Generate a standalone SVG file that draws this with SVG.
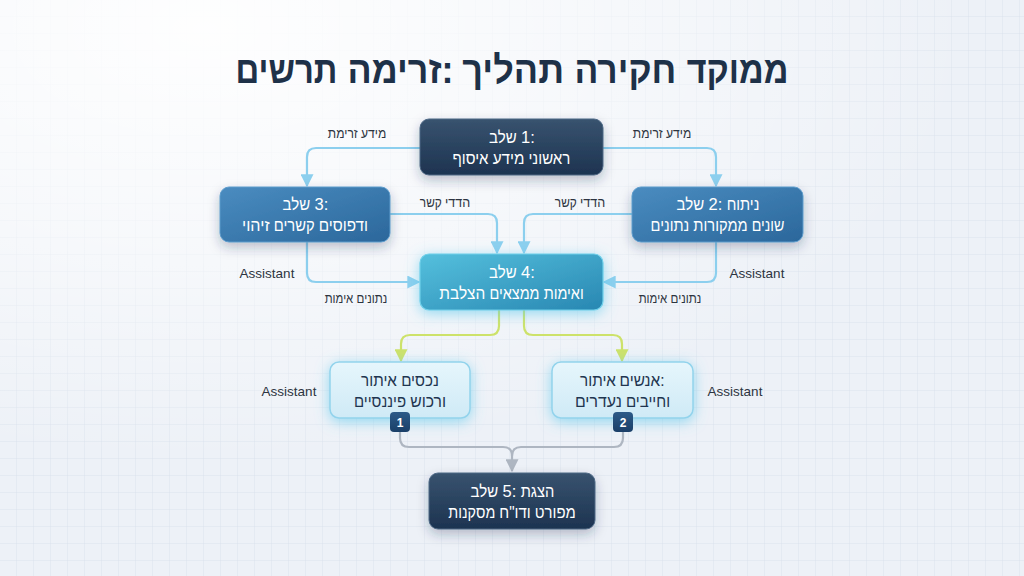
<svg xmlns="http://www.w3.org/2000/svg" width="1024" height="576" viewBox="0 0 1024 576">
<defs>
<pattern id="grid" width="17" height="17" patternUnits="userSpaceOnUse">
<path d="M17,0 V17 H0" fill="none" stroke="#dbe2ec" stroke-width="1"/>
</pattern>
<radialGradient id="bgfade" cx="0.2" cy="0.05" r="0.75">
<stop offset="0" stop-color="#ffffff" stop-opacity="0.95"/>
<stop offset="0.5" stop-color="#ffffff" stop-opacity="0.55"/>
<stop offset="1" stop-color="#ffffff" stop-opacity="0"/>
</radialGradient>
<linearGradient id="gDark" x1="0" y1="0" x2="0" y2="1">
<stop offset="0" stop-color="#38536f"/>
<stop offset="1" stop-color="#1d3350"/>
</linearGradient>
<linearGradient id="gMid" x1="0" y1="0" x2="1" y2="1">
<stop offset="0" stop-color="#4a8cc0"/>
<stop offset="1" stop-color="#2b679b"/>
</linearGradient>
<linearGradient id="gTeal" x1="0" y1="0" x2="1" y2="1">
<stop offset="0" stop-color="#55c0dd"/>
<stop offset="1" stop-color="#2887b2"/>
</linearGradient>
<linearGradient id="gLight" x1="0" y1="0" x2="0" y2="1">
<stop offset="0" stop-color="#e6f6fc"/>
<stop offset="1" stop-color="#cfeaf6"/>
</linearGradient>
<linearGradient id="gBadge" x1="0" y1="0" x2="0" y2="1">
<stop offset="0" stop-color="#2c5a88"/>
<stop offset="1" stop-color="#1a3f68"/>
</linearGradient>
<filter id="shadow" x="-30%" y="-40%" width="160%" height="190%">
<feDropShadow dx="0" dy="5" stdDeviation="6" flood-color="#1d3350" flood-opacity="0.28"/>
</filter>
<filter id="glow" x="-30%" y="-40%" width="160%" height="190%">
<feDropShadow dx="0" dy="3" stdDeviation="7" flood-color="#5cc8ec" flood-opacity="0.65"/>
</filter>
<marker id="aBlue" viewBox="0 0 10 10" refX="9" refY="5" markerWidth="13" markerHeight="13" markerUnits="userSpaceOnUse" orient="auto">
<path d="M0,0 L10,5 L0,10 z" fill="#8ccfee"/>
</marker>
<marker id="aYellow" viewBox="0 0 10 10" refX="9" refY="5" markerWidth="13" markerHeight="13" markerUnits="userSpaceOnUse" orient="auto">
<path d="M0,0 L10,5 L0,10 z" fill="#cde26a"/>
</marker>
<marker id="aGray" viewBox="0 0 10 10" refX="9" refY="5" markerWidth="13" markerHeight="13" markerUnits="userSpaceOnUse" orient="auto">
<path d="M0,0 L10,5 L0,10 z" fill="#aeb6c1"/>
</marker>
<style>
.t{font-family:"Liberation Sans","DejaVu Sans",sans-serif;text-anchor:middle}
.title{font-size:38px;font-weight:bold;fill:#1e3148}
.nt{font-size:16.5px;fill:#ffffff}
.ntd{font-size:16.5px;fill:#1f3550}
.lbl{font-size:13.5px;fill:#2c3440}
.badge{font-size:12px;font-weight:bold;fill:#ffffff}
.cb{fill:none;stroke:#8ccfee;stroke-width:2.2;marker-end:url(#aBlue)}
.cy{fill:none;stroke:#cde26a;stroke-width:2.2;marker-end:url(#aYellow)}
.cg{fill:none;stroke:#aeb6c1;stroke-width:2.2}
.cga{marker-end:url(#aGray)}
</style>
</defs>
<rect width="1024" height="576" fill="#edf1f7"/>
<rect width="1024" height="576" fill="url(#grid)"/>
<rect width="1024" height="576" fill="url(#bgfade)"/>

<text class="t title" y="83"><tspan x="286.5" textLength="101.9" lengthAdjust="spacingAndGlyphs">תרשים</tspan><tspan x="344"> </tspan><tspan x="400.5" textLength="106" lengthAdjust="spacingAndGlyphs">זרימה:&#x200E;</tspan><tspan x="457"> </tspan><tspan x="513.2" textLength="101.9" lengthAdjust="spacingAndGlyphs">תהליך</tspan><tspan x="569"> </tspan><tspan x="625.4" textLength="101.9" lengthAdjust="spacingAndGlyphs">חקירה</tspan><tspan x="681"> </tspan><tspan x="737.6" textLength="101.9" lengthAdjust="spacingAndGlyphs">ממוקד</tspan></text>

<g id="connectors">
<path class="cb" d="M420,148 H316 Q307,148 307,157 V186"/>
<path class="cb" d="M603,148 H707 Q716,148 716,157 V186"/>
<path class="cb" d="M390,214 H488 Q497,214 497,223 V253"/>
<path class="cb" d="M632,214 H533 Q524,214 524,223 V253"/>
<path class="cb" d="M307,242 V273 Q307,282 316,282 H419"/>
<path class="cb" d="M716,242 V273 Q716,282 707,282 H604"/>
<path class="cy" d="M499,310 V326 Q499,335 490,335 H410 Q401,335 401,344 V361"/>
<path class="cy" d="M524,310 V326 Q524,335 533,335 H613 Q622,335 622,344 V361"/>
<path class="cg cga" d="M400,432 V438 Q400,447 409,447 H503 Q512,447 512,456 V471"/>
<path class="cg" d="M623,432 V438 Q623,447 614,447 H521 Q512,447 512,456"/>
<text class="t lbl" y="138"><tspan x="342.8" textLength="29.9" lengthAdjust="spacingAndGlyphs">זרימת</tspan><tspan x="359.4"> </tspan><tspan x="373.6" textLength="25.2" lengthAdjust="spacingAndGlyphs">מידע</tspan></text>
<text class="t lbl" y="138"><tspan x="647.8" textLength="29.9" lengthAdjust="spacingAndGlyphs">זרימת</tspan><tspan x="664.4"> </tspan><tspan x="678.6" textLength="25.2" lengthAdjust="spacingAndGlyphs">מידע</tspan></text>
<text class="t lbl" y="207"><tspan x="430.8" textLength="21.9" lengthAdjust="spacingAndGlyphs">קשר</tspan><tspan x="443.4"> </tspan><tspan x="457.6" textLength="25.2" lengthAdjust="spacingAndGlyphs">הדדי</tspan></text>
<text class="t lbl" y="207"><tspan x="565.8" textLength="21.9" lengthAdjust="spacingAndGlyphs">קשר</tspan><tspan x="578.4"> </tspan><tspan x="592.6" textLength="25.2" lengthAdjust="spacingAndGlyphs">הדדי</tspan></text>
<text class="t lbl" x="267" y="278">Assistant</text>
<text class="t lbl" x="757" y="278">Assistant</text>
<text class="t lbl" y="303"><tspan x="339" textLength="28.5" lengthAdjust="spacingAndGlyphs">אימות</tspan><tspan x="355"> </tspan><tspan x="371.9" textLength="30.7" lengthAdjust="spacingAndGlyphs">נתונים</tspan></text>
<text class="t lbl" y="303"><tspan x="653" textLength="28.5" lengthAdjust="spacingAndGlyphs">אימות</tspan><tspan x="669"> </tspan><tspan x="685.9" textLength="30.7" lengthAdjust="spacingAndGlyphs">נתונים</tspan></text>
<text class="t lbl" x="289" y="396">Assistant</text>
<text class="t lbl" x="735" y="396">Assistant</text>
</g>

<g id="node1">
<rect x="420" y="119" width="183" height="56" rx="9" fill="url(#gDark)" stroke="#4d6885" stroke-width="1" filter="url(#shadow)"/>
<text class="t nt" y="143"><tspan x="502.8" textLength="27.6" lengthAdjust="spacingAndGlyphs">שלב</tspan><tspan x="518.7"> </tspan><tspan x="528">1:</tspan></text>
<text class="t nt" y="164"><tspan x="470.5" textLength="35.9" lengthAdjust="spacingAndGlyphs">איסוף</tspan><tspan x="490.5"> </tspan><tspan x="508.5" textLength="31.7" lengthAdjust="spacingAndGlyphs">מידע</tspan><tspan x="526.5"> </tspan><tspan x="549.4" textLength="41.9" lengthAdjust="spacingAndGlyphs">ראשוני</tspan></text>
</g>
<g id="node3">
<rect x="220" y="187" width="170" height="55" rx="9" fill="url(#gMid)" stroke="#5d9ccc" stroke-width="1" filter="url(#shadow)"/>
<text class="t nt" y="210"><tspan x="296.3" textLength="27.6" lengthAdjust="spacingAndGlyphs">שלב</tspan><tspan x="312.2"> </tspan><tspan x="321.5">3:</tspan></text>
<text class="t nt" y="231"><tspan x="255.8" textLength="27.6" lengthAdjust="spacingAndGlyphs">זיהוי</tspan><tspan x="271.7"> </tspan><tspan x="294.2" textLength="40.9" lengthAdjust="spacingAndGlyphs">קשרים</tspan><tspan x="316.7"> </tspan><tspan x="343.4" textLength="49.2" lengthAdjust="spacingAndGlyphs">ודפוסים</tspan></text>
</g>
<g id="node2">
<rect x="632" y="187" width="171" height="55" rx="9" fill="url(#gMid)" stroke="#5d9ccc" stroke-width="1" filter="url(#shadow)"/>
<text class="t nt" y="210"><tspan x="690.4" textLength="27.6" lengthAdjust="spacingAndGlyphs">שלב</tspan><tspan x="706.3"> </tspan><tspan x="715.5">2:</tspan><tspan x="724.2"> </tspan><tspan x="743" textLength="32.7" lengthAdjust="spacingAndGlyphs">ניתוח</tspan></text>
<text class="t nt" y="231"><tspan x="669.9" textLength="38.6" lengthAdjust="spacingAndGlyphs">נתונים</tspan><tspan x="691.3"> </tspan><tspan x="720.5" textLength="54.3" lengthAdjust="spacingAndGlyphs">ממקורות</tspan><tspan x="749.7"> </tspan><tspan x="768.1" textLength="32.7" lengthAdjust="spacingAndGlyphs">שונים</tspan></text>
</g>
<g id="node4">
<rect x="420" y="254" width="183" height="56" rx="9" fill="url(#gTeal)" stroke="#6fd0ea" stroke-width="1.2" filter="url(#glow)"/>
<text class="t nt" y="278"><tspan x="502.8" textLength="27.6" lengthAdjust="spacingAndGlyphs">שלב</tspan><tspan x="518.7"> </tspan><tspan x="528">4:</tspan></text>
<text class="t nt" y="299"><tspan x="462.3" textLength="46" lengthAdjust="spacingAndGlyphs">הצלבת</tspan><tspan x="487.4"> </tspan><tspan x="514.5" textLength="50.1" lengthAdjust="spacingAndGlyphs">ממצאים</tspan><tspan x="541.6"> </tspan><tspan x="563.7" textLength="40" lengthAdjust="spacingAndGlyphs">ואימות</tspan></text>
</g>
<g id="nodeAssets">
<rect x="330" y="362" width="140" height="56" rx="9" fill="url(#gLight)" stroke="#92d3ec" stroke-width="1.5" filter="url(#glow)"/>
<text class="t ntd" y="386"><tspan x="379" textLength="35.9" lengthAdjust="spacingAndGlyphs">איתור</tspan><tspan x="399"> </tspan><tspan x="420" textLength="37.7" lengthAdjust="spacingAndGlyphs">נכסים</tspan></text>
<text class="t ntd" y="407"><tspan x="380" textLength="52" lengthAdjust="spacingAndGlyphs">פיננסיים</tspan><tspan x="408"> </tspan><tspan x="428.1" textLength="35.9" lengthAdjust="spacingAndGlyphs">ורכוש</tspan></text>
<rect x="390" y="412" width="20" height="20" rx="4" fill="url(#gBadge)"/>
<text class="t badge" x="400" y="426.5">1</text>
</g>
<g id="nodePeople">
<rect x="552" y="362" width="141" height="56" rx="9" fill="url(#gLight)" stroke="#92d3ec" stroke-width="1.5" filter="url(#glow)"/>
<text class="t ntd" y="386"><tspan x="598" textLength="35.9" lengthAdjust="spacingAndGlyphs">איתור</tspan><tspan x="618"> </tspan><tspan x="642" textLength="45" lengthAdjust="spacingAndGlyphs">אנשים:</tspan></text>
<text class="t ntd" y="407"><tspan x="598.4" textLength="46.9" lengthAdjust="spacingAndGlyphs">נעדרים</tspan><tspan x="623.9"> </tspan><tspan x="648" textLength="44.2" lengthAdjust="spacingAndGlyphs">וחייבים</tspan></text>
<rect x="613" y="412" width="20" height="20" rx="4" fill="url(#gBadge)"/>
<text class="t badge" x="623" y="426.5">2</text>
</g>
<g id="node5">
<rect x="429" y="473" width="166" height="56" rx="9" fill="url(#gDark)" stroke="#4d6885" stroke-width="1" filter="url(#shadow)"/>
<text class="t nt" y="497"><tspan x="484.4" textLength="27.6" lengthAdjust="spacingAndGlyphs">שלב</tspan><tspan x="500.3"> </tspan><tspan x="509.5">5:</tspan><tspan x="518.5"> </tspan><tspan x="537.5" textLength="33.6" lengthAdjust="spacingAndGlyphs">הצגת</tspan></text>
<text class="t nt" y="518"><tspan x="471.8" textLength="46.9" lengthAdjust="spacingAndGlyphs">מסקנות</tspan><tspan x="497.3"> </tspan><tspan x="515" textLength="31.3" lengthAdjust="spacingAndGlyphs">ודו"ח</tspan><tspan x="532.7"> </tspan><tspan x="555.3" textLength="40.9" lengthAdjust="spacingAndGlyphs">מפורט</tspan></text>
</g>
</svg>
